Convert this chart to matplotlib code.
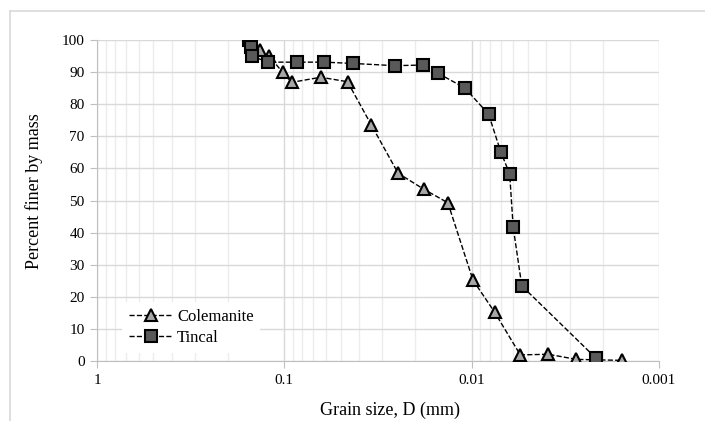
import matplotlib.pyplot as plt
import matplotlib.ticker as mticker
from matplotlib.lines import Line2D

plt.rcParams['font.family'] = ['Liberation Serif', 'DejaVu Serif']

# Colemanite grain size (mm) and percent finer
col_d = [0.135, 0.1205, 0.102, 0.0915, 0.0639, 0.046, 0.0343, 0.0247,
         0.018, 0.0134, 0.00984, 0.00754, 0.0055, 0.0039, 0.00276, 0.00158]
col_p = [96.9, 95.0, 89.9, 86.8, 88.4, 87.0, 73.5, 58.5,
         53.5, 49.3, 25.2, 15.2, 1.9, 2.1, 0.5, 0.2]

# Tincal
tin_d = [0.154, 0.151, 0.1496, 0.122, 0.0861, 0.0611, 0.0431, 0.0257, 0.0183,
         0.0151, 0.0109, 0.00812, 0.0070, 0.00627, 0.006, 0.0054, 0.00218]
tin_p = [100.0, 97.9, 95.0, 93.1, 93.1, 93.1, 92.7, 92.0, 92.2,
         89.6, 85.1, 76.9, 65.2, 58.3, 41.6, 23.4, 1.0]

fig = plt.figure(figsize=(7.05, 4.21), dpi=100)
ax = fig.add_axes([97/705, 1-361/421, (659-97)/705, (361-40)/421])

# chart area border (Excel style)
fig.add_artist(Line2D([10/705, 1], [1-11/421, 1-11/421], color='#d9d9d9', lw=1.2))
fig.add_artist(Line2D([10/705, 10/705], [0, 1-11/421], color='#d9d9d9', lw=1.2))

ax.plot(col_d, col_p, ls='--', color='black', lw=1.0, marker='^', markersize=9,
        markerfacecolor='#a6a6a6', markeredgecolor='black', markeredgewidth=1.5,
        label='Colemanite', zorder=3)
ax.plot(tin_d, tin_p, ls='--', color='black', lw=1.0, marker='s', markersize=8.5,
        markerfacecolor='#595959', markeredgecolor='black', markeredgewidth=1.5,
        label='Tincal', zorder=3)

ax.set_xscale('log')
ax.set_xlim(1, 0.001)
ax.set_ylim(0, 100)
ax.set_yticks(range(0, 101, 10))
ax.xaxis.set_major_formatter(mticker.FuncFormatter(lambda v, p: '{:g}'.format(v)))
ax.xaxis.set_minor_formatter(mticker.NullFormatter())

ax.grid(which='major', color='#d9d9d9', lw=1.0)
ax.grid(which='minor', axis='x', color='#ececec', lw=1.0)
ax.set_axisbelow(True)

for s in ['top', 'right']:
    ax.spines[s].set_visible(False)
for s in ['left', 'bottom']:
    ax.spines[s].set_color('#bfbfbf')
ax.tick_params(which='major', color='#bfbfbf', length=5, labelsize=11, pad=4)
ax.tick_params(which='minor', length=0)

ax.set_xlabel('Grain size, D (mm)', fontsize=13)
ax.set_ylabel('Percent finer by mass', fontsize=13)
ax.xaxis.set_label_coords((390-97)/562, -(408-361)/321 + 0.02)
ax.yaxis.set_label_coords(-(97-43)/562, (361-191)/321)

leg = ax.legend(loc='lower left', bbox_to_anchor=(0.03, 0.0), frameon=True,
                fontsize=12, handlelength=2.6, borderpad=0.4, labelspacing=0.3,
                handletextpad=0.3)
leg.get_frame().set_edgecolor('none')
leg.get_frame().set_facecolor('white')
leg.get_frame().set_alpha(1)

fig.savefig('out.png', dpi=100)
